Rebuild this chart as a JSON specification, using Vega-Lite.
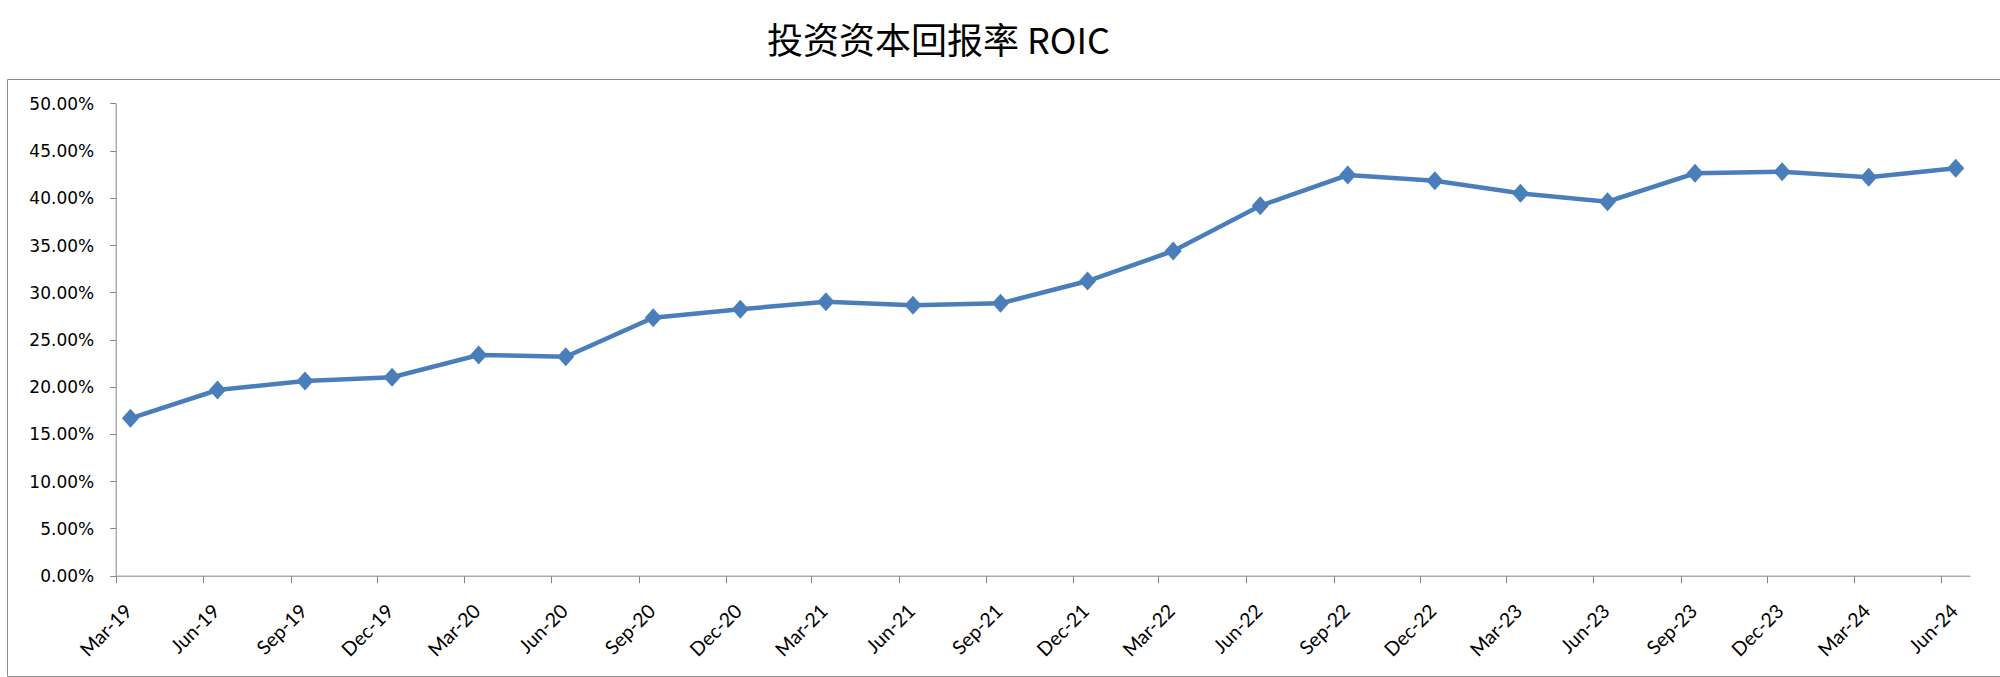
{
  "$schema": "https://vega.github.io/schema/vega-lite/v6.json",
  "width": 1993,
  "height": 597,
  "autosize": "none",
  "padding": {"left": 7, "top": 79, "right": 0, "bottom": 1},
  "background": "white",
  "title": {
    "text": "投资资本回报率 ROIC",
    "font": "Noto Sans CJK SC",
    "fontSize": 36,
    "fontWeight": "normal",
    "color": "black",
    "anchor": "middle",
    "frame": "group",
    "baseline": "alphabetic",
    "offset": 20,
    "dy": 31,
    "dx": -65
  },
  "config": {"view": {"stroke": "#8c8c8c", "strokeWidth": 1}},
  "data": {
    "values": [
      {"date": "2019-03-15", "roic": 0.1666},
      {"date": "2019-06-15", "roic": 0.1965},
      {"date": "2019-09-15", "roic": 0.2061},
      {"date": "2019-12-15", "roic": 0.2100},
      {"date": "2020-03-15", "roic": 0.2336},
      {"date": "2020-06-15", "roic": 0.2318},
      {"date": "2020-09-15", "roic": 0.2731},
      {"date": "2020-12-15", "roic": 0.2820},
      {"date": "2021-03-15", "roic": 0.2900},
      {"date": "2021-06-15", "roic": 0.2862},
      {"date": "2021-09-15", "roic": 0.2883},
      {"date": "2021-12-15", "roic": 0.3119},
      {"date": "2022-03-15", "roic": 0.3437},
      {"date": "2022-06-15", "roic": 0.3916},
      {"date": "2022-09-15", "roic": 0.4241},
      {"date": "2022-12-15", "roic": 0.4181},
      {"date": "2023-03-15", "roic": 0.4047},
      {"date": "2023-06-15", "roic": 0.3959},
      {"date": "2023-09-15", "roic": 0.4259},
      {"date": "2023-12-15", "roic": 0.4276},
      {"date": "2024-03-15", "roic": 0.4217},
      {"date": "2024-06-15", "roic": 0.4312}
    ]
  },
  "encoding": {
    "x": {
      "field": "date",
      "type": "temporal",
      "timeUnit": "yearmonth",
      "bandPosition": 0.5,
      "scale": {
        "domain": [{"year": 2019, "month": 3, "date": 1}, {"year": 2024, "month": 7, "date": 1}],
        "range": [108.7, 1963],
        "nice": false
      },
      "axis": {
        "values": [
          {"year": 2019, "month": 3, "date": 1}, {"year": 2019, "month": 6, "date": 1}, {"year": 2019, "month": 9, "date": 1}, {"year": 2019, "month": 12, "date": 1},
          {"year": 2020, "month": 3, "date": 1}, {"year": 2020, "month": 6, "date": 1}, {"year": 2020, "month": 9, "date": 1}, {"year": 2020, "month": 12, "date": 1},
          {"year": 2021, "month": 3, "date": 1}, {"year": 2021, "month": 6, "date": 1}, {"year": 2021, "month": 9, "date": 1}, {"year": 2021, "month": 12, "date": 1},
          {"year": 2022, "month": 3, "date": 1}, {"year": 2022, "month": 6, "date": 1}, {"year": 2022, "month": 9, "date": 1}, {"year": 2022, "month": 12, "date": 1},
          {"year": 2023, "month": 3, "date": 1}, {"year": 2023, "month": 6, "date": 1}, {"year": 2023, "month": 9, "date": 1}, {"year": 2023, "month": 12, "date": 1},
          {"year": 2024, "month": 3, "date": 1}, {"year": 2024, "month": 6, "date": 1}
        ],
        "format": "%b-%y",
        "labelAngle": -45,
        "labelAlign": "right",
        "labelBaseline": "middle",
        "labelFont": "Lato",
        "labelFontSize": 19.5,
        "labelColor": "black",
        "labelOffset": 13,
        "labelPadding": 25,
        "labelOverlap": false,
        "labelFlush": false,
        "labelBound": false,
        "tickSize": 7,
        "tickColor": "#868686",
        "domainColor": "#868686",
        "grid": false,
        "title": null,
        "offset": -100.3
      }
    },
    "y": {
      "field": "roic",
      "type": "quantitative",
      "scale": {"domain": [0, 0.5], "range": [496.7, 24.3], "nice": false, "zero": false},
      "axis": {
        "values": [0, 0.05, 0.1, 0.15, 0.2, 0.25, 0.3, 0.35, 0.4, 0.45, 0.5],
        "format": ".2%",
        "labelFont": "DejaVu Sans",
        "labelFontSize": 17,
        "labelColor": "black",
        "labelPadding": 16,
        "labelOffset": 1,
        "labelOverlap": false,
        "tickSize": 6,
        "tickColor": "#868686",
        "domainColor": "#868686",
        "grid": false,
        "title": null,
        "offset": -108.7
      }
    }
  },
  "layer": [
    {"mark": {"type": "line", "color": "#4A7EBB", "strokeWidth": 4.5}},
    {"mark": {"type": "point", "shape": "M-0.9,0L0,-1L0.9,0L0,1Z", "filled": true, "size": 361, "color": "#4A7EBB", "opacity": 1}}
  ]
}
